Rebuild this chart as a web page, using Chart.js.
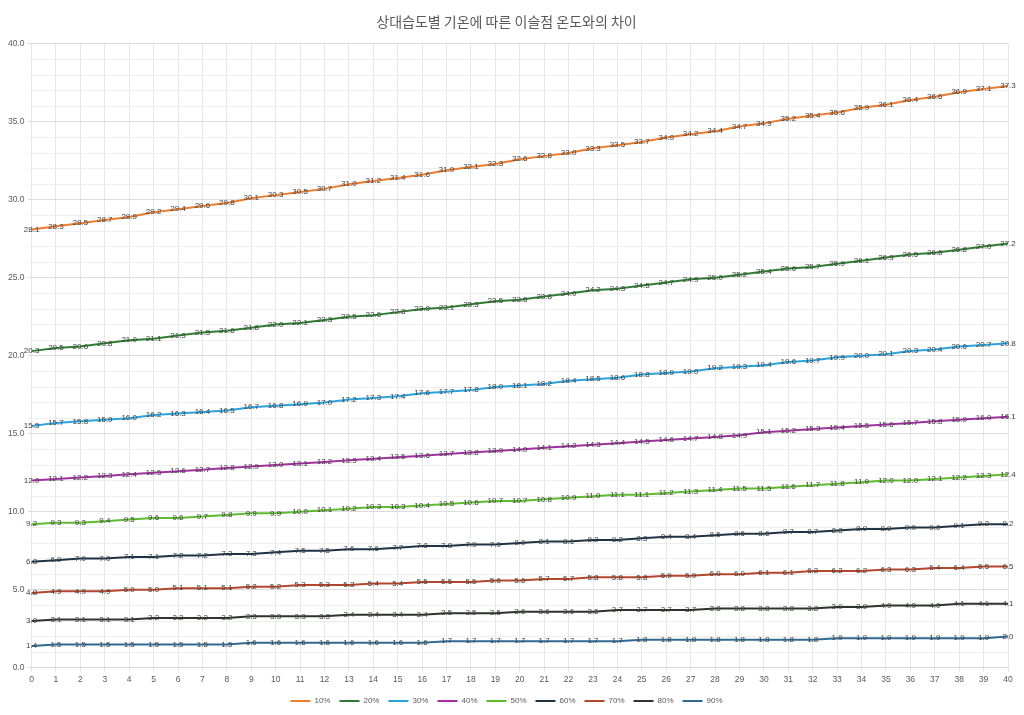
<!DOCTYPE html>
<html>
<head>
<meta charset="utf-8">
<script src="https://cdn.jsdelivr.net/npm/chart.js@4"></script>
<style>
  body { margin: 0; background: #fff; }
  #wrap { width: 1024px; height: 715px; }
</style>
</head>
<body>
<div id="wrap"><canvas id="dewChart"></canvas></div>
<script>
// 기온 (x축)
const temps = [];
for (let t = 0; t <= 40; t++) temps.push(String(t));

const rh10 = [28.1, 28.3, 28.5, 28.7, 28.9, 29.2, 29.4, 29.6, 29.8, 30.1, 30.3, 30.5, 30.7, 31.0, 31.2, 31.4, 31.6, 31.9, 32.1, 32.3, 32.6, 32.8, 33.0, 33.3, 33.5, 33.7, 34.0, 34.2, 34.4, 34.7, 34.9, 35.2, 35.4, 35.6, 35.9, 36.1, 36.4, 36.6, 36.9, 37.1, 37.3];
const rh20 = [20.3, 20.5, 20.6, 20.8, 21.0, 21.1, 21.3, 21.5, 21.6, 21.8, 22.0, 22.1, 22.3, 22.5, 22.6, 22.8, 23.0, 23.1, 23.3, 23.5, 23.6, 23.8, 24.0, 24.2, 24.3, 24.5, 24.7, 24.9, 25.0, 25.2, 25.4, 25.6, 25.7, 25.9, 26.1, 26.3, 26.5, 26.6, 26.8, 27.0, 27.2];
const rh30 = [15.5, 15.7, 15.8, 15.9, 16.0, 16.2, 16.3, 16.4, 16.5, 16.7, 16.8, 16.9, 17.0, 17.2, 17.3, 17.4, 17.6, 17.7, 17.8, 18.0, 18.1, 18.2, 18.4, 18.5, 18.6, 18.8, 18.9, 19.0, 19.2, 19.3, 19.4, 19.6, 19.7, 19.9, 20.0, 20.1, 20.3, 20.4, 20.6, 20.7, 20.8];
const rh40 = [12.0, 12.1, 12.2, 12.3, 12.4, 12.5, 12.6, 12.7, 12.8, 12.9, 13.0, 13.1, 13.2, 13.3, 13.4, 13.5, 13.6, 13.7, 13.8, 13.9, 14.0, 14.1, 14.2, 14.3, 14.4, 14.5, 14.6, 14.7, 14.8, 14.9, 15.1, 15.2, 15.3, 15.4, 15.5, 15.6, 15.7, 15.8, 15.9, 16.0, 16.1];
const rh50 = [9.2, 9.3, 9.3, 9.4, 9.5, 9.6, 9.6, 9.7, 9.8, 9.9, 9.9, 10.0, 10.1, 10.2, 10.3, 10.3, 10.4, 10.5, 10.6, 10.7, 10.7, 10.8, 10.9, 11.0, 11.1, 11.1, 11.2, 11.3, 11.4, 11.5, 11.5, 11.6, 11.7, 11.8, 11.9, 12.0, 12.0, 12.1, 12.2, 12.3, 12.4];
const rh60 = [6.8, 6.9, 7.0, 7.0, 7.1, 7.1, 7.2, 7.2, 7.3, 7.3, 7.4, 7.5, 7.5, 7.6, 7.6, 7.7, 7.8, 7.8, 7.9, 7.9, 8.0, 8.1, 8.1, 8.2, 8.2, 8.3, 8.4, 8.4, 8.5, 8.6, 8.6, 8.7, 8.7, 8.8, 8.9, 8.9, 9.0, 9.0, 9.1, 9.2, 9.2];
const rh70 = [4.8, 4.9, 4.9, 4.9, 5.0, 5.0, 5.1, 5.1, 5.1, 5.2, 5.2, 5.3, 5.3, 5.3, 5.4, 5.4, 5.5, 5.5, 5.5, 5.6, 5.6, 5.7, 5.7, 5.8, 5.8, 5.8, 5.9, 5.9, 6.0, 6.0, 6.1, 6.1, 6.2, 6.2, 6.2, 6.3, 6.3, 6.4, 6.4, 6.5, 6.5];
const rh80 = [3.0, 3.1, 3.1, 3.1, 3.1, 3.2, 3.2, 3.2, 3.2, 3.3, 3.3, 3.3, 3.3, 3.4, 3.4, 3.4, 3.4, 3.5, 3.5, 3.5, 3.6, 3.6, 3.6, 3.6, 3.7, 3.7, 3.7, 3.7, 3.8, 3.8, 3.8, 3.8, 3.8, 3.9, 3.9, 4.0, 4.0, 4.0, 4.1, 4.1, 4.1];
const rh90 = [1.4, 1.5, 1.5, 1.5, 1.5, 1.5, 1.5, 1.5, 1.5, 1.6, 1.6, 1.6, 1.6, 1.6, 1.6, 1.6, 1.6, 1.7, 1.7, 1.7, 1.7, 1.7, 1.7, 1.7, 1.7, 1.8, 1.8, 1.8, 1.8, 1.8, 1.8, 1.8, 1.8, 1.9, 1.9, 1.9, 1.9, 1.9, 1.9, 1.9, 2.0];

const seriesNames = ["10%", "20%", "30%", "40%", "50%", "60%", "70%", "80%", "90%"];
const seriesData = [rh10, rh20, rh30, rh40, rh50, rh60, rh70, rh80, rh90];
const colors = ["#ED7D31", "#2E7D32", "#29A3DD", "#A0309F", "#5DBB2E", "#1F3347", "#B5462B", "#2B352B", "#2E6A92"];

// 점마다 값 표시
const pointLabels = {
  id: "pointLabels",
  afterDatasetsDraw(chart) {
    const ctx = chart.ctx;
    ctx.save();
    ctx.font = "8px 'Liberation Sans', Arial, sans-serif";
    ctx.fillStyle = "#404040";
    ctx.textAlign = "center";
    ctx.textBaseline = "middle";
    chart.data.datasets.forEach((ds, i) => {
      chart.getDatasetMeta(i).data.forEach((pt, j) => {
        ctx.fillText(ds.data[j].toFixed(1), pt.x, pt.y);
      });
    });
    ctx.restore();
  },
};

const ctx = document.getElementById("dewChart").getContext("2d");
new Chart(ctx, {
  type: "line",
  data: {
    labels: temps,
    datasets: seriesNames.map((name, i) => ({
      label: name,
      data: seriesData[i],
      borderColor: colors[i],
      backgroundColor: colors[i],
      borderWidth: 2,
      pointRadius: 0,
      tension: 0,
      fill: false,
    })),
  },
  options: {
    responsive: true,
    maintainAspectRatio: false,
    animation: false,
    layout: { padding: { left: 5, right: 16, top: 7, bottom: 0 } },
    plugins: {
      title: {
        display: true,
        text: "상대습도별 기온에 따른 이슬점 온도와의 차이",
        color: "#595959",
        font: { size: 14, family: "'Noto Sans CJK KR', sans-serif", weight: "normal" },
        padding: { top: 6, bottom: 14 },
      },
      legend: {
        position: "bottom",
        labels: {
          usePointStyle: true,
          pointStyle: "line",
          pointStyleWidth: 20,
          color: "#595959",
          font: { size: 8 },
          padding: 9,
        },
      },
      tooltip: { enabled: false },
    },
    scales: {
      x: {
        offset: false,
        grid: { color: "#e6e6e6", tickLength: 4 },
        border: { color: "#d9d9d9" },
        ticks: { color: "#595959", font: { size: 8.5 }, maxRotation: 0, autoSkip: false },
      },
      y: {
        min: 0,
        max: 40,
        grid: {
          color: (c) => (c.tick && c.tick.value % 5 === 0 ? "#dcdcdc" : "#eeeeee"),
          tickLength: 4,
        },
        border: { display: false },
        ticks: {
          stepSize: 1,
          autoSkip: false,
          color: "#595959",
          font: { size: 8.5 },
          callback: (v) => (v % 5 === 0 ? v.toFixed(1) : ""),
        },
      },
    },
  },
  plugins: [pointLabels],
});
</script>
</body>
</html>
